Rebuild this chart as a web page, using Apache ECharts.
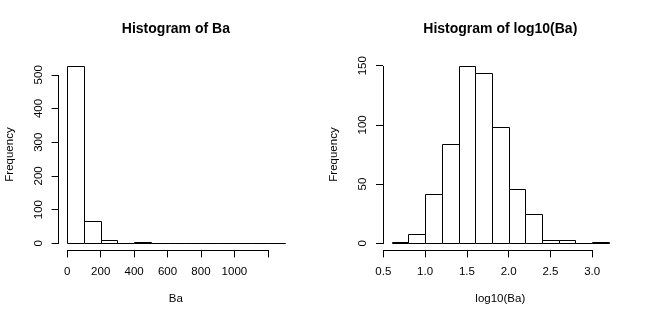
<!DOCTYPE html>
<html><head><meta charset="utf-8">
<script src="https://cdn.jsdelivr.net/npm/echarts@6/dist/echarts.min.js"></script>
<style>html,body{margin:0;padding:0;background:#fff}#c{width:648px;height:324px}</style>
</head><body><div id="c"></div>
<script>
// ---- data ----
const baBreaks = [0, 100, 200, 300, 400, 500, 600, 700, 800, 900, 1000, 1100, 1200, 1300];
const baCounts = [527, 65, 9, 1, 3, 1, 0, 0, 0, 0, 0, 0, 1];
const logBreaks = [0.6, 0.8, 1.0, 1.2, 1.4, 1.6, 1.8, 2.0, 2.2, 2.4, 2.6, 2.8, 3.0, 3.2];
const logCounts = [1, 8, 42, 84, 150, 144, 98, 46, 25, 3, 3, 0, 1];
const baXTicks = [0, 200, 400, 600, 800, 1000, 1200];
const baXLabels = [0, 200, 400, 600, 800, 1000];
const baYTicks = [0, 100, 200, 300, 400, 500];
const logXTicks = [0.5, 1.0, 1.5, 2.0, 2.5, 3.0];
const logXLabels = [0.5, 1.0, 1.5, 2.0, 2.5, 3.0];
const logYTicks = [0, 50, 100, 150];
const titles = ['Histogram of Ba', 'Histogram of log10(Ba)'];
const xNames = ['Ba', 'log10(Ba)'];
const yName = 'Frequency';

// ---- layout ----
const FONT = "'Liberation Sans', Arial, Helvetica, sans-serif";
const GRID_W = 234.6, GRID_H = 191.8, GRID_TOP = 58.6;
const gridLefts = [58.6, 383.0];

function rng(lo, hi) { const p = (hi - lo) * 0.04; return [lo - p, hi + p]; }
const xr = [rng(baBreaks[0], baBreaks[baBreaks.length - 1]), rng(logBreaks[0], logBreaks[logBreaks.length - 1])];
const yr = [rng(0, Math.max(...baCounts)), rng(0, Math.max(...logCounts))];

function snap(v) { return Math.round(v) + 0.5; }

function barRender(params, api) {
  const x0 = api.value(0), x1 = api.value(1), c = api.value(2);
  const p0 = api.coord([x0, c]), p1 = api.coord([x1, 0]);
  const l = snap(p0[0]), r = snap(p1[0]), t = snap(p0[1]), b = snap(p1[1]);
  return { type: 'rect', shape: { x: l, y: t, width: r - l, height: b - t },
    style: { fill: '#fff', stroke: '#000', lineWidth: 1 } };
}
function axisRender(k, xt, yt) {
  return function (params, api) {
    const ymin = yr[k][0], xmin = xr[k][0];
    const a = api.coord([xt[0], ymin]), b = api.coord([xt[xt.length - 1], ymin]);
    const c = api.coord([xmin, yt[0]]), d = api.coord([xmin, yt[yt.length - 1]]);
    const st = { stroke: '#000', lineWidth: 1, fill: null };
    return { type: 'group', children: [
      { type: 'line', shape: { x1: Math.round(a[0]), y1: snap(a[1] - 0.5), x2: Math.round(b[0]) + 1, y2: snap(a[1] - 0.5) }, style: st },
      { type: 'line', shape: { x1: snap(c[0] - 0.5), y1: Math.round(c[1]) + 1, x2: snap(c[0] - 0.5), y2: Math.round(d[1]) }, style: st }
    ] };
  };
}

const sets = [
  { breaks: baBreaks, counts: baCounts, xt: baXTicks, xl: baXLabels, yt: baYTicks, fmt: v => String(v) },
  { breaks: logBreaks, counts: logCounts, xt: logXTicks, xl: logXLabels, yt: logYTicks, fmt: v => Number(v).toFixed(1) }
];

const option = {
  animation: false,
  backgroundColor: '#fff',
  title: sets.map((s, k) => ({
    text: titles[k], left: gridLefts[k] + GRID_W / 2, top: 22, textAlign: 'center', padding: 0,
    textStyle: { fontFamily: FONT, fontSize: 14, fontWeight: 'bold', color: '#000' }
  })),
  grid: sets.map((s, k) => ({ left: gridLefts[k], top: GRID_TOP, width: GRID_W, height: GRID_H, outerBoundsMode: 'none', containLabel: false })),
  xAxis: sets.map((s, k) => ({
    type: 'value', gridIndex: k, min: xr[k][0], max: xr[k][1],
    name: xNames[k], nameLocation: 'middle', nameGap: 42, nameMoveOverlap: false,
    nameTextStyle: { fontFamily: FONT, fontSize: 11.5, color: '#000' },
    axisLine: { show: false, onZero: false }, splitLine: { show: false },
    axisTick: { show: true, inside: false, length: 7, lineStyle: { color: '#000', width: 1 }, customValues: s.xt },
    axisLabel: { show: true, margin: 15, fontFamily: FONT, fontSize: 11.5, color: '#000', customValues: s.xl, formatter: s.fmt, hideOverlap: false }
  })),
  yAxis: sets.map((s, k) => ({
    type: 'value', gridIndex: k, min: yr[k][0], max: yr[k][1],
    name: yName, nameLocation: 'middle', nameGap: 43, nameRotate: 90, nameMoveOverlap: false,
    nameTextStyle: { fontFamily: FONT, fontSize: 11.5, color: '#000' },
    axisLine: { show: false, onZero: false }, splitLine: { show: false },
    axisTick: { show: true, inside: false, length: 7, lineStyle: { color: '#000', width: 1 }, customValues: s.yt },
    axisLabel: { show: true, margin: 14, rotate: 90, fontFamily: FONT, fontSize: 11.5, color: '#000', customValues: s.yt, hideOverlap: false }
  })),
  series: [].concat(...sets.map((s, k) => [
    { type: 'custom', xAxisIndex: k, yAxisIndex: k, clip: false, silent: true,
      data: s.counts.map((c, i) => [s.breaks[i], s.breaks[i + 1], c]),
      encode: { x: [0, 1], y: 2 }, renderItem: barRender },
    { type: 'custom', xAxisIndex: k, yAxisIndex: k, clip: false, silent: true,
      data: [[s.xt[0], s.yt[0]]], encode: { x: 0, y: 1 }, renderItem: axisRender(k, s.xt, s.yt) }
  ]))
};
const chart = echarts.init(document.getElementById('c'), null, { renderer: 'canvas' });
chart.setOption(option);
</script></body></html>
